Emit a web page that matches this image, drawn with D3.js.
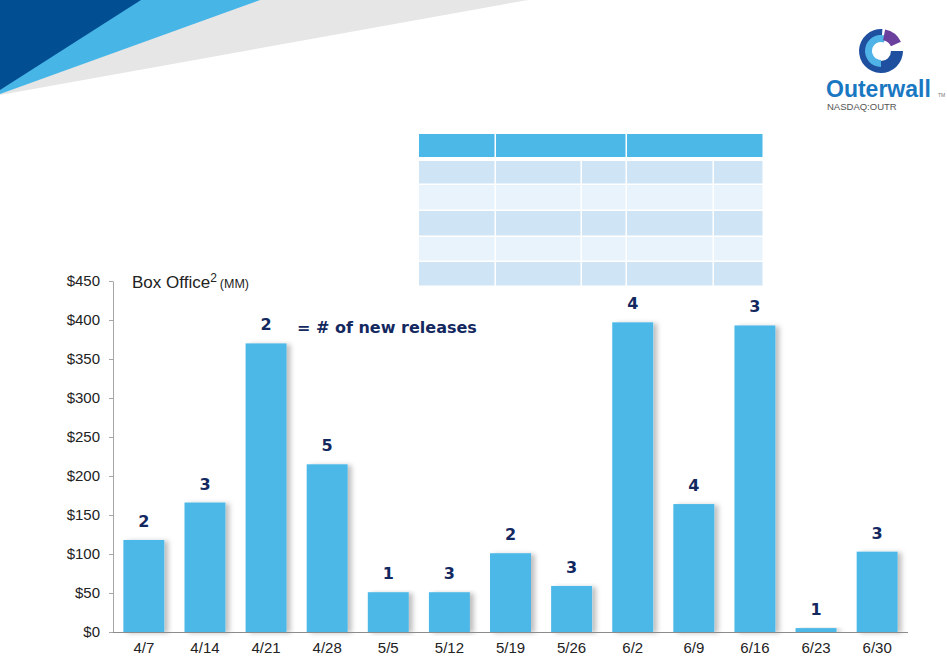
<!doctype html>
<html lang="en">
<head>
  <meta charset="utf-8">
  <title>Box office by week</title>
  <style>
    * { margin: 0; padding: 0; box-sizing: border-box; }
    body { background: #fff; }
    #container { width: 947px; height: 657px; }
  </style>
</head>
<body>
  <div id="container"></div>
  <script src="https://cdn.jsdelivr.net/npm/d3@7/dist/d3.min.js"></script>
  <script>
    // weekly box office (MM) and count of new releases
    const weeks = ['4/7','4/14','4/21','4/28','5/5','5/12','5/19','5/26','6/2','6/9','6/16','6/23','6/30'];
    const boxOffice = [118, 166, 370, 215, 51, 51, 101, 59, 397, 164, 393, 5, 103];
    const newReleases = [2, 3, 2, 5, 1, 3, 2, 3, 4, 4, 3, 1, 3];
    const yTicks = [0, 50, 100, 150, 200, 250, 300, 350, 400, 450];

    // empty table block (rows / column edges)
    const tableCols = [419, 496, 582, 627, 714, 764];
    const headerCols = [419, 496, 627, 764];
    const tableRows = [161, 185, 211, 237, 262, 287];

    const sans = 'Arial, "Liberation Sans", sans-serif';
    const bold = 'Verdana, "DejaVu Sans", sans-serif';

    const W = 947, H = 657;
    const svg = d3.select('#container').append('svg')
      .attr('width', W)
      .attr('height', H)
      .style('font-family', sans);

    const defs = svg.append('defs');
    defs.append('filter').attr('id', 'shadow')
      .attr('x', '-20%').attr('y', '-5%').attr('width', '160%').attr('height', '115%')
      .append('feDropShadow')
      .attr('dx', 4).attr('dy', 1).attr('stdDeviation', 2.5)
      .attr('flood-color', '#000').attr('flood-opacity', 0.25);

    // banner wedges top-left
    const banner = svg.append('g');
    banner.append('polygon').attr('points', '0,0 528,0 0,95').attr('fill', '#e6e6e6');
    banner.append('polygon').attr('points', '0,0 260,0 0,94').attr('fill', '#47b6e7');
    banner.append('polygon').attr('points', '0,0 141,0 0,90').attr('fill', '#024e92');

    // logo
    const logo = svg.append('g').attr('transform', 'translate(881,51)');
    const arc = d3.arc();
    logo.append('path')
      .attr('d', arc({innerRadius: 10, outerRadius: 22, startAngle: Math.PI * 0.5, endAngle: Math.PI * 2.02}))
      .attr('fill', '#1f50a0');
    logo.append('path')
      .attr('d', arc({innerRadius: 9, outerRadius: 16, startAngle: Math.PI * 1.0, endAngle: Math.PI * 2.1}))
      .attr('fill', '#4fb3e8');
    logo.append('path')
      .attr('d', arc({innerRadius: 11, outerRadius: 22, startAngle: Math.PI * 0.06, endAngle: Math.PI * 0.36}))
      .attr('fill', '#6b3f9e');
    svg.append('text')
      .attr('x', 826).attr('y', 97)
      .style('font-size', '23px').style('font-weight', 'bold')
      .attr('fill', '#1a78c2')
      .text('Outerwall');
    svg.append('text')
      .attr('x', 938).attr('y', 97)
      .style('font-size', '5px').attr('fill', '#777')
      .text('TM');
    svg.append('text')
      .attr('x', 827).attr('y', 110)
      .style('font-size', '9.5px').attr('fill', '#555')
      .text('NASDAQ:OUTR');

    // table
    const table = svg.append('g');
    table.selectAll('rect.head')
      .data(d3.pairs(headerCols))
      .join('rect')
      .attr('class', 'head')
      .attr('x', d => d[0]).attr('y', 134)
      .attr('width', d => d[1] - d[0] - 1.5).attr('height', 23)
      .attr('fill', '#4bb8e8');
    const rowPairs = d3.pairs(tableRows);
    const colPairs = d3.pairs(tableCols);
    rowPairs.forEach((r, i) => {
      table.selectAll(null)
        .data(colPairs)
        .join('rect')
        .attr('x', d => d[0]).attr('y', r[0])
        .attr('width', d => d[1] - d[0] - 1.5).attr('height', r[1] - r[0] - 1.5)
        .attr('fill', i % 2 === 0 ? '#cfe5f6' : '#e8f3fb');
    });

    // chart
    const x = d3.scaleBand()
      .domain(weeks)
      .range([113, 908])
      .paddingInner(0.33)
      .paddingOuter(0.17);

    const y = d3.scaleLinear()
      .domain([0, 450])
      .range([632, 281]);

    svg.append('g')
      .selectAll('rect')
      .data(weeks)
      .join('rect')
      .attr('x', d => x(d))
      .attr('y', (d, i) => y(boxOffice[i]))
      .attr('width', x.bandwidth())
      .attr('height', (d, i) => y(0) - y(boxOffice[i]))
      .attr('fill', '#4bb8e8')
      .attr('filter', 'url(#shadow)');

    const yAxis = svg.append('g')
      .attr('transform', 'translate(113,0)')
      .call(d3.axisLeft(y).tickValues(yTicks).tickSize(4).tickSizeOuter(0).tickFormat(d => '$' + d));
    yAxis.select('.domain').attr('stroke', '#a6a6a6');
    yAxis.selectAll('.tick line').attr('stroke', '#a6a6a6');
    yAxis.selectAll('.tick text')
      .attr('x', -13)
      .style('font-family', sans)
      .style('font-size', '15px').attr('fill', '#222');

    const xAxis = svg.append('g')
      .attr('transform', 'translate(0,632)')
      .call(d3.axisBottom(x).tickSize(0).tickSizeOuter(0));
    xAxis.select('.domain').attr('stroke', '#8c8c8c').attr('d', 'M113,0.5H908');
    xAxis.selectAll('.tick text')
      .attr('y', 10)
      .style('font-family', sans)
      .style('font-size', '15px').attr('fill', '#222');

    // new release counts above bars
    const labelY = i => y(boxOffice[i]) - 13;
    svg.append('g')
      .selectAll('text')
      .data(weeks)
      .join('text')
      .attr('x', d => x(d) + x.bandwidth() / 2)
      .attr('y', (d, i) => labelY(i))
      .attr('text-anchor', 'middle')
      .style('font-family', bold)
      .style('font-weight', 'bold')
      .style('font-size', '16px')
      .attr('fill', '#13285f')
      .text((d, i) => newReleases[i]);

    // legend note beside the 4/21 count
    svg.append('text')
      .attr('x', 297).attr('y', labelY(2) + 3)
      .style('font-family', bold)
      .style('font-weight', 'bold').style('font-size', '16px').attr('fill', '#13285f')
      .text('= # of new releases');

    // axis title
    const title = svg.append('text')
      .attr('x', 132).attr('y', 288)
      .style('font-size', '17px').attr('fill', '#222');
    title.append('tspan').text('Box Office');
    title.append('tspan').style('font-size', '12px').attr('dy', -6).text('2');
    title.append('tspan').style('font-size', '12.5px').attr('dy', 6).attr('dx', 3).text('(MM)');
  </script>
</body>
</html>
